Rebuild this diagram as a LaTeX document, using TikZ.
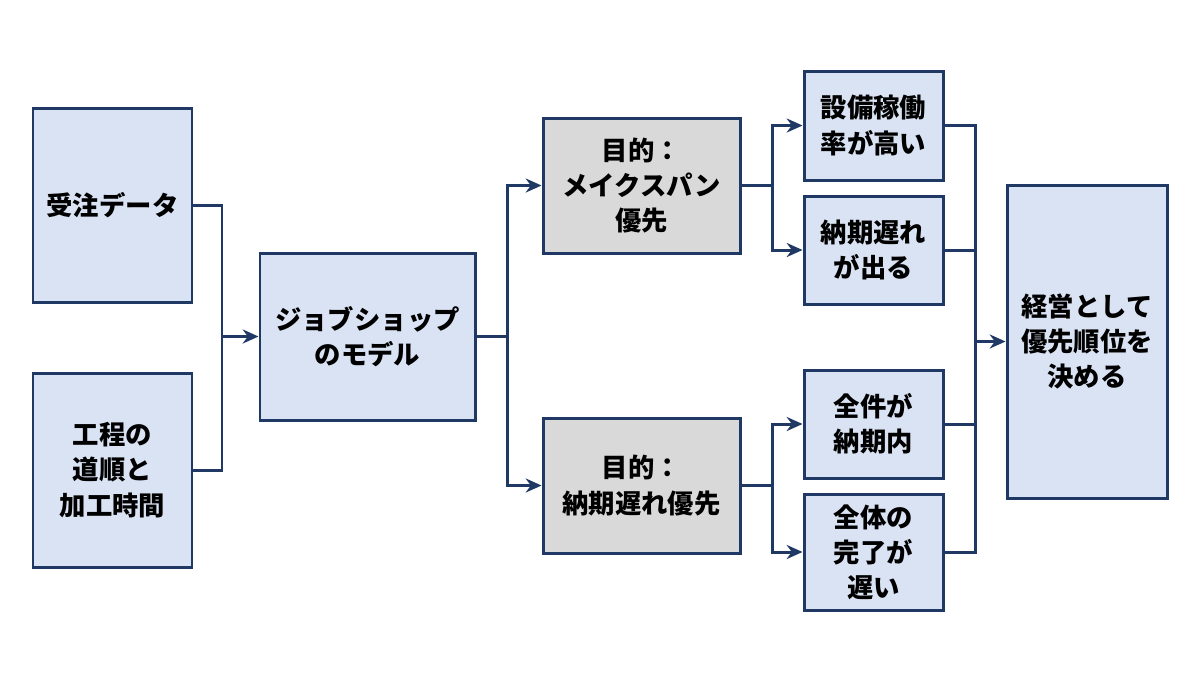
\documentclass[tikz,border=0pt]{standalone}
\usepackage{fontspec}
\setmainfont{Noto Sans CJK JP}
\usetikzlibrary{arrows.meta}
\definecolor{navy}{HTML}{1F3864}
\definecolor{lblue}{HTML}{DAE3F3}
\definecolor{lgray}{HTML}{D9D9D9}
\begin{document}
\begin{tikzpicture}[
  box/.style={draw=navy, line width=1.7pt, fill=lblue, align=center, inner sep=2pt,
    font=\fontsize{15}{20}\selectfont\bfseries, text=black},
  gbox/.style={box, fill=lgray},
  ln/.style={draw=navy, line width=1.7pt},
  ar/.style={ln, -{Stealth[length=9pt,width=8pt]}}
]
\useasboundingbox (0,0) rectangle (24,-13.5);
\node[box, minimum width=3.18cm, minimum height=3.88cm] (A) at (2.25,-4.1) {受注データ};
\node[box, minimum width=3.18cm, minimum height=3.88cm] (B) at (2.25,-9.4) {工程の\\道順と\\加工時間};
\node[box, minimum width=4.3cm, minimum height=3.34cm] (C) at (7.35,-6.73) {ジョブショップ\\のモデル};
\node[gbox, minimum width=3.94cm, minimum height=2.7cm] (D) at (12.83,-3.71) {目的：\\メイクスパン\\優先};
\node[gbox, minimum width=3.94cm, minimum height=2.7cm] (E) at (12.83,-9.71) {目的：\\納期遅れ優先};
\node[box, minimum width=2.78cm, minimum height=2.18cm] (F) at (17.47,-2.51) {設備稼働\\率が高い};
\node[box, minimum width=2.78cm, minimum height=2.16cm] (G) at (17.47,-5.0) {納期遅れ\\が出る};
\node[box, minimum width=2.78cm, minimum height=2.16cm] (H) at (17.47,-8.48) {全件が\\納期内};
\node[box, minimum width=2.78cm, minimum height=2.32cm] (I) at (17.47,-11.04) {全体の\\完了が\\遅い};
\node[box, minimum width=3.2cm, minimum height=6.26cm] (J) at (21.74,-6.83) {経営として\\優先順位を\\決める};
\coordinate (j1) at (4.44,-6.73);
\coordinate (j2) at (10.14,-6.73);
\coordinate (j3) at (15.44,-3.71);
\coordinate (j4) at (15.44,-9.71);
\coordinate (j5) at (19.5,-6.83);
\draw[ln] (A.east) -| (j1);
\draw[ln] (B.east) -| (j1);
\draw[ar] (j1) -- (C.west);
\draw[ln] (C.east) -- (j2);
\draw[ar] (j2) |- (D.west);
\draw[ar] (j2) |- (E.west);
\draw[ln] (D.east) -- (j3);
\draw[ar] (j3) |- (F.west);
\draw[ar] (j3) |- (G.west);
\draw[ln] (E.east) -- (j4);
\draw[ar] (j4) |- (H.west);
\draw[ar] (j4) |- (I.west);
\draw[ln] (F.east) -| (j5);
\draw[ln] (G.east) -| (j5);
\draw[ln] (H.east) -| (j5);
\draw[ln] (I.east) -| (j5);
\draw[ar] (j5) -- (J.west);
\end{tikzpicture}
\end{document}
